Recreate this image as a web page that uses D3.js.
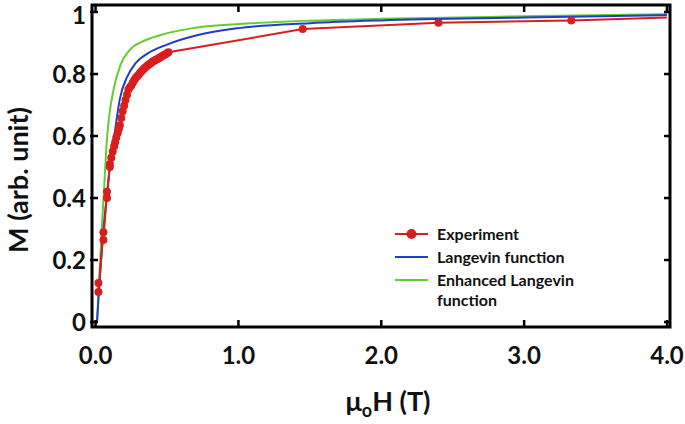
<!DOCTYPE html>
<html><head><meta charset="utf-8">
<script src="https://cdn.jsdelivr.net/npm/d3@7"></script>
<style>body{margin:0;background:#fff}svg{display:block}text{font-family:Lato,"Open Sans",sans-serif;font-weight:700;fill:#111}</style>
</head><body><svg id="c" width="685" height="424"></svg>
<script>
// Experiment data (mu0H in T, M arb. unit)
const expX = [0.02,0.02,0.055,0.055,0.08,0.08,0.10,0.10,0.11,0.12,0.13,0.137,0.145,0.155,0.163,0.17,0.18,0.19,0.20,0.21,0.22,0.23,0.24,0.25,0.26,0.27,0.28,0.29,0.30,0.31,0.32,0.33,0.34,0.35,0.36,0.37,0.38,0.39,0.40,0.41,0.42,0.43,0.44,0.45,0.46,0.47,0.48,0.49,0.50,0.51,1.45,2.40,3.33,4.0];
const expY = [0.126,0.097,0.29,0.265,0.42,0.40,0.51,0.50,0.53,0.55,0.567,0.58,0.595,0.61,0.623,0.635,0.658,0.68,0.698,0.716,0.733,0.75,0.757,0.763,0.772,0.78,0.787,0.792,0.797,0.803,0.808,0.813,0.818,0.822,0.826,0.83,0.833,0.836,0.84,0.843,0.845,0.848,0.85,0.853,0.856,0.859,0.861,0.864,0.867,0.87,0.945,0.965,0.973,0.982];
// Langevin function
const langX = [0.01,0.055,0.078,0.10,0.137,0.17,0.22,0.28,0.36,0.50,0.71,1.0,1.5,2.0,3.0,4.0];
const langY = [0.0,0.297,0.404,0.50,0.62,0.72,0.79,0.835,0.865,0.895,0.925,0.948,0.964,0.973,0.982,0.99];
// Enhanced Langevin function
const enhX = [0.01,0.043,0.062,0.078,0.097,0.125,0.175,0.24,0.33,0.45,0.68,1.0,1.5,2.0,3.0,4.0];
const enhY = [0.0,0.297,0.45,0.58,0.67,0.748,0.83,0.878,0.905,0.925,0.948,0.961,0.972,0.978,0.986,0.993];

const xTicks = [0,1,2,3,4];
const xTickLabels = ["0.0","1.0","2.0","3.0","4.0"];
const yTicks = [0,0.2,0.4,0.6,0.8,1];
const yTickLabels = ["0","0.2","0.4","0.6","0.8","1"];
const seriesNames = ["Experiment","Langevin function","Enhanced Langevin","function"];

const RED="#d91e1e", BLUE="#1f3ccc", GREEN="#66cc2e";
const svg = d3.select("#c");
const L=92,R=670,T=5,B=327;
const x = d3.scaleLinear().domain([-0.025,4.021]).range([L,R]);
const y = d3.scaleLinear().domain([-0.016,1.0226]).range([B,T]);

// curves
const lineM = d3.line().x(d=>x(d[0])).y(d=>y(d[1]));
const smooth = d3.line().x(d=>x(d[0])).y(d=>y(d[1])).curve(d3.curveMonotoneX);
svg.append("path").datum(d3.zip(enhX,enhY)).attr("d",smooth).attr("fill","none").attr("stroke",GREEN).attr("stroke-width",2);
svg.append("path").datum(d3.zip(langX,langY)).attr("d",smooth).attr("fill","none").attr("stroke",BLUE).attr("stroke-width",2);
const expData = d3.zip(expX,expY);
svg.append("path").datum(expData).attr("d",lineM).attr("fill","none").attr("stroke",RED).attr("stroke-width",2);
svg.append("g").selectAll("circle").data(expData.filter(d=>d[0]<4)).join("circle")
  .attr("cx",d=>x(d[0])).attr("cy",d=>y(d[1])).attr("r",4).attr("fill",RED);

// frame
svg.append("rect").attr("x",L).attr("y",T).attr("width",R-L).attr("height",B-T)
  .attr("fill","none").attr("stroke","#000").attr("stroke-width",3);
// ticks
const tk = svg.append("g").attr("stroke","#000").attr("stroke-width",2.5);
xTicks.forEach(v=>{
  tk.append("line").attr("x1",x(v)).attr("x2",x(v)).attr("y1",B).attr("y2",B-7);
  tk.append("line").attr("x1",x(v)).attr("x2",x(v)).attr("y1",T).attr("y2",T+7);
});
yTicks.forEach(v=>{
  tk.append("line").attr("x1",L-2).attr("x2",L+6).attr("y1",y(v)).attr("y2",y(v));
  tk.append("line").attr("x1",R).attr("x2",R-6).attr("y1",y(v)).attr("y2",y(v));
});
// tick labels
svg.append("g").selectAll("text").data(xTicks).join("text")
  .attr("x",d=>x(d)).attr("y",B+37).attr("text-anchor","middle").attr("font-size",24)
  .text((d,i)=>xTickLabels[i]);
svg.append("g").selectAll("text").data(yTicks).join("text")
  .attr("x",L-6).attr("y",d=>Math.max(y(d)+8.5,24)).attr("text-anchor","end").attr("font-size",24)
  .text((d,i)=>yTickLabels[i]);
// axis titles
const xt = svg.append("text").attr("x",388).attr("y",411).attr("text-anchor","middle").attr("font-size",27);
xt.append("tspan").text("μ");
xt.append("tspan").attr("font-size",18).attr("dy",6).text("o");
xt.append("tspan").attr("dy",-6).text("H (T)");
svg.append("text").attr("transform","translate(28,180) rotate(-90)").attr("text-anchor","middle")
  .attr("font-size",27).text("M (arb. unit)");

// legend
const lg = svg.append("g");
const ly=[234,257,280,300];
lg.append("line").attr("x1",395).attr("x2",428).attr("y1",ly[0]).attr("y2",ly[0]).attr("stroke",RED).attr("stroke-width",2);
lg.append("circle").attr("cx",411.5).attr("cy",ly[0]).attr("r",5).attr("fill",RED);
lg.append("line").attr("x1",395).attr("x2",428).attr("y1",ly[1]).attr("y2",ly[1]).attr("stroke",BLUE).attr("stroke-width",2);
lg.append("line").attr("x1",395).attr("x2",428).attr("y1",ly[2]).attr("y2",ly[2]).attr("stroke",GREEN).attr("stroke-width",2);
seriesNames.forEach((s,i)=>{
  lg.append("text").attr("x",437).attr("y",ly[i]+5.5).attr("font-size",16).text(s);
});
</script></body></html>
